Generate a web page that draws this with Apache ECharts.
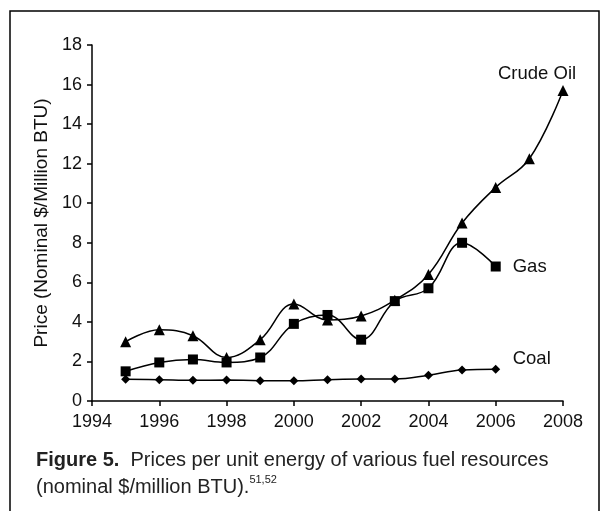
<!DOCTYPE html>
<html>
<head>
<meta charset="utf-8">
<script src="https://cdn.jsdelivr.net/npm/echarts@6/dist/echarts.min.js"></script>
<style>
  html, body { margin: 0; padding: 0; background: #fff; }
  #chartmain { width: 600px; height: 511px; }
</style>
</head>
<body>
<div id="chartmain"></div>
<script>
// data
var years = [1995, 1996, 1997, 1998, 1999, 2000, 2001, 2002, 2003, 2004, 2005, 2006, 2007, 2008];
var crudeOil = [3.0, 3.6, 3.3, 2.2, 3.1, 4.9, 4.1, 4.3, 5.1, 6.4, 9.0, 10.8, 12.25, 15.7];
var gas = [1.5, 1.95, 2.1, 1.95, 2.2, 3.9, 4.35, 3.1, 5.05, 5.7, 8.0, 6.8];
var coal = [1.1, 1.08, 1.05, 1.06, 1.03, 1.03, 1.08, 1.11, 1.11, 1.3, 1.57, 1.6];
var yTicks = [0, 2, 4, 6, 8, 10, 12, 14, 16, 18];
var xTicks = [1994, 1996, 1998, 2000, 2002, 2004, 2006, 2008];

var FONT = 'Liberation Sans, Arial, Helvetica, sans-serif';

function pairs(vals) {
    var out = [];
    for (var i = 0; i < vals.length; i++) {
        out.push([years[i], vals[i]]);
    }
    return out;
}

function lineSeries(name, vals, symbol, size, endLbl) {
    return {
        name: name,
        type: 'line',
        data: pairs(vals),
        smooth: 0.4,
        symbol: symbol,
        symbolSize: size,
        itemStyle: { color: '#000' },
        lineStyle: { color: '#000', width: 1.5 },
        endLabel: endLbl,
        silent: true,
        animation: false
    };
}

var myChart = echarts.init(document.getElementById('chartmain'), null, { renderer: 'canvas' });

myChart.setOption({
    backgroundColor: '#fff',
    animation: false,
    textStyle: { fontFamily: FONT },
    grid: { left: 92, right: 37, top: 45, bottom: 110, containLabel: false },
    xAxis: {
        type: 'value',
        min: xTicks[0],
        max: xTicks[xTicks.length - 1],
        interval: 2,
        splitLine: { show: false },
        axisLine: { show: true, lineStyle: { color: '#000', width: 1.5 } },
        axisTick: { show: true, inside: false, length: 5, lineStyle: { color: '#000', width: 1.5 } },
        axisLabel: {
            color: '#111', fontSize: 18, fontFamily: FONT, margin: 12,
            formatter: function (v) { return String(v); }
        }
    },
    yAxis: {
        type: 'value',
        min: yTicks[0],
        max: yTicks[yTicks.length - 1],
        interval: 2,
        name: 'Price (Nominal $/Million BTU)',
        nameLocation: 'middle',
        nameGap: 39,
        nameTextStyle: { color: '#111', fontSize: 19, fontFamily: FONT },
        splitLine: { show: false },
        axisLine: { show: true, lineStyle: { color: '#000', width: 1.5 } },
        axisTick: { show: true, inside: false, length: 5, lineStyle: { color: '#000', width: 1.5 } },
        axisLabel: { color: '#111', fontSize: 18, fontFamily: FONT, margin: 10 }
    },
    series: [
        lineSeries('Crude Oil', crudeOil, 'triangle', 11, {
            show: true, formatter: 'Crude Oil', color: '#111', fontSize: 18.5, fontFamily: FONT,
            offset: [-73, -17]
        }),
        lineSeries('Gas', gas, 'rect', 10, {
            show: true, formatter: 'Gas', color: '#111', fontSize: 18.5, fontFamily: FONT,
            offset: [9, 0]
        }),
        lineSeries('Coal', coal, 'diamond', 9, {
            show: true, formatter: 'Coal', color: '#111', fontSize: 18.5, fontFamily: FONT,
            offset: [9, -10]
        })
    ],
    graphic: [
        {
            type: 'rect',
            shape: { x: 10, y: 11, width: 589, height: 520 },
            style: { fill: null, stroke: '#000', lineWidth: 1.5 },
            silent: true
        },
        {
            type: 'text',
            left: 36,
            top: 447,
            style: {
                text: '{b|Figure 5.}  Prices per unit energy of various fuel resources\n(nominal $/million BTU).{s|51,52}',
                fill: '#222',
                font: '20px ' + FONT,
                lineHeight: 27,
                rich: {
                    b: { fontWeight: 'bold', fontSize: 20, fontFamily: FONT, fill: '#222' },
                    s: { fontSize: 11, fontFamily: FONT, fill: '#222', verticalAlign: 'top', padding: [0, 0, 11, 0] }
                }
            },
            silent: true
        }
    ]
});
</script>
</body>
</html>
